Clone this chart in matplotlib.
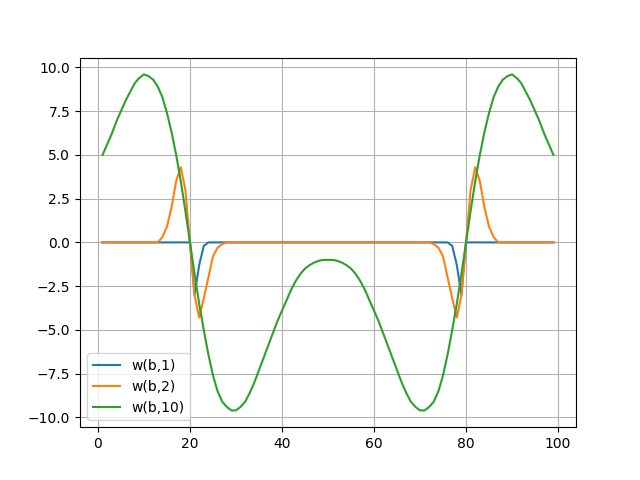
import matplotlib
matplotlib.use("Agg")
import matplotlib.pyplot as plt

x = list(range(1, 100))

w1 = [0, 0, 0, 0, 0, 0, 0, 0, 0, 0,
      0, 0, 0, 0, 0, 0, 0, 0, 0, 0,
      -3.0, -1.3, -0.2, 0, 0, 0, 0, 0, 0, 0,
      0, 0, 0, 0, 0, 0, 0, 0, 0, 0,
      0, 0, 0, 0, 0, 0, 0, 0, 0, 0,
      0, 0, 0, 0, 0, 0, 0, 0, 0, 0,
      0, 0, 0, 0, 0, 0, 0, 0, 0, 0,
      0, 0, 0, 0, 0, 0, -0.2, -1.3, -3.0, 0,
      0, 0, 0, 0, 0, 0, 0, 0, 0, 0,
      0, 0, 0, 0, 0, 0, 0, 0, 0]

w2 = [0, 0, 0, 0, 0, 0, 0, 0, 0, 0,
      0, 0, 0, 0.3, 0.9, 2.0, 3.5, 4.3, 3.0, 0,
      -3.0, -4.3, -3.2, -2.0, -0.8, -0.3, -0.1, 0, 0, 0,
      0, 0, 0, 0, 0, 0, 0, 0, 0, 0,
      0, 0, 0, 0, 0, 0, 0, 0, 0, 0,
      0, 0, 0, 0, 0, 0, 0, 0, 0, 0,
      0, 0, 0, 0, 0, 0, 0, 0, 0, 0,
      0, 0, -0.1, -0.3, -0.8, -2.0, -3.2, -4.3, -3.0, 0,
      3.0, 4.3, 3.5, 2.0, 0.9, 0.3, 0, 0, 0, 0,
      0, 0, 0, 0, 0, 0, 0, 0, 0]

w10 = [5.0, 5.6, 6.2, 6.9, 7.5, 8.1, 8.6, 9.1, 9.4, 9.6,
       9.5, 9.3, 8.9, 8.3, 7.4, 6.3, 5.0, 3.5, 1.8, 0.0,
       -1.8, -3.5, -5.0, -6.4, -7.6, -8.5, -9.1, -9.4, -9.6, -9.6,
       -9.4, -9.1, -8.6, -8.0, -7.3, -6.6, -5.9, -5.2, -4.5, -3.9,
       -3.3, -2.7, -2.2, -1.8, -1.5, -1.3, -1.15, -1.05, -1.0, -1.0,
       -1.0, -1.05, -1.15, -1.3, -1.5, -1.8, -2.2, -2.7, -3.3, -3.9,
       -4.5, -5.2, -5.9, -6.6, -7.3, -8.0, -8.6, -9.1, -9.4, -9.6,
       -9.6, -9.4, -9.1, -8.5, -7.6, -6.4, -5.0, -3.5, -1.8, 0.0,
       1.8, 3.5, 5.0, 6.3, 7.4, 8.3, 8.9, 9.3, 9.5, 9.6,
       9.4, 9.1, 8.6, 8.1, 7.5, 6.9, 6.2, 5.6, 5.0]

fig, ax = plt.subplots(figsize=(6.4, 4.8), dpi=100)
ax.plot(x, w1, label="w(b,1)")
ax.plot(x, w2, label="w(b,2)")
ax.plot(x, w10, label="w(b,10)")
ax.grid(True)
ax.legend(loc="lower left")
fig.savefig("out.png")
